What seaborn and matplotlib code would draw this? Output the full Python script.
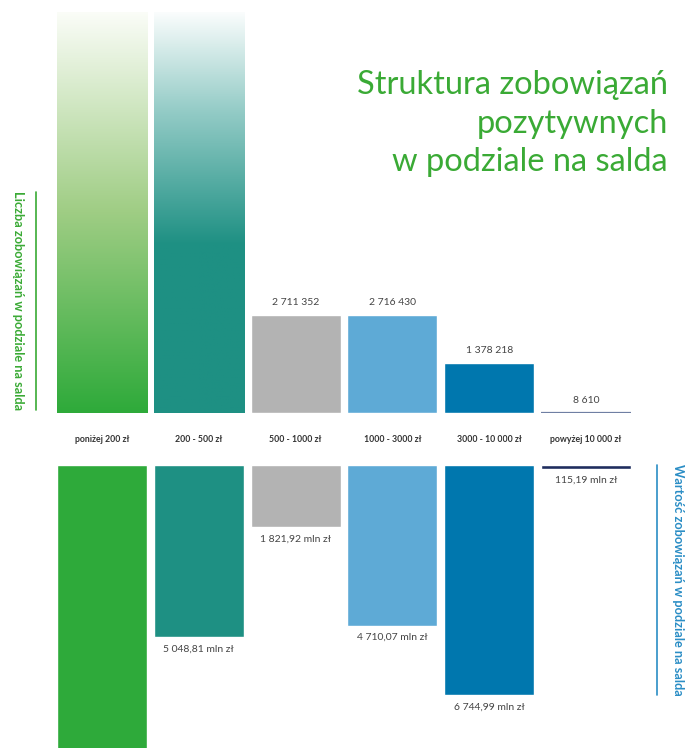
import numpy as np
import pandas as pd
import matplotlib
matplotlib.use("Agg")
import matplotlib.pyplot as plt
import seaborn as sns
from matplotlib.colors import LinearSegmentedColormap
from matplotlib.transforms import blended_transform_factory

# ---- data ----
categories = ["poniżej 200 zł", "200 - 500 zł", "500 - 1000 zł",
              "1000 - 3000 zł", "3000 - 10 000 zł", "powyżej 10 000 zł"]
counts = [11_150_000, 11_150_000, 2_711_352, 2_716_430, 1_378_218, 8_610]
count_labels = ["", "", "2 711 352", "2 716 430", "1 378 218", "8 610"]
values_mln = [8600.0, 5048.81, 1821.92, 4710.07, 6744.99, 115.19]
value_labels = ["", "5 048,81 mln zł", "1 821,92 mln zł", "4 710,07 mln zł",
                "6 744,99 mln zł", "115,19 mln zł"]
colors = ["#2eaa3a", "#1e9083", "#b3b3b3", "#5eaad6", "#0077ae", "#1f2d5e"]
title = "Struktura zobowiązań\npozytywnych\nw podziale na salda"
left_label = "Liczba zobowiązań w podziale na salda"
right_label = "Wartość zobowiązań w podziale na salda"

sns.set_theme(style="white")
plt.rcParams['font.family'] = ['Lato', 'DejaVu Sans']

W, H = 695, 748
fig = plt.figure(figsize=(W / 100, H / 100), dpi=100)

df = pd.DataFrame({"cat": categories, "count": counts, "val": values_mln})
pal = dict(zip(categories, colors))

# x mapping: centre of bar0 at 102px, spacing 96.8 px
sp = 96.8
xl = (-102 / sp, 5 + (W - 586) / sp)

base_top = 413
ax_top = fig.add_axes([0, (H - base_top) / H, 1, base_top / H])
ax_bot = fig.add_axes([0, 0, 1, (H - 465) / H])

px_per_m = 36.0
sns.barplot(data=df, x="cat", y="count", hue="cat", palette=pal, dodge=False,
            legend=False, width=0.93, ax=ax_top, saturation=1)

px_per_k = 34.15
sns.barplot(data=df, x="cat", y="val", hue="cat", palette=pal, dodge=False,
            legend=False, width=0.93, ax=ax_bot, saturation=1)

# gradients on first two top bars
grad_specs = [
    [(0.0, "#2eaa3a"), (0.5, "#9fcd84"), (1.0, "#fbfdf8")],
    [(0.0, "#1e9083"), (0.42, "#1e9083"), (0.75, "#93cbc6"), (1.0, "#fbfdfd")],
]
for i, stops in enumerate(grad_specs):
    p = ax_top.patches[i]
    x0, y0 = p.get_x(), p.get_y()
    w, h = p.get_width(), p.get_height()
    cmap = LinearSegmentedColormap.from_list(f"g{i}", stops)
    grad = np.linspace(0, 1, 256).reshape(-1, 1)
    im = ax_top.imshow(grad, cmap=cmap, origin="lower", aspect="auto",
                       extent=[x0, x0 + w, y0, y0 + h], zorder=p.get_zorder())
    im.set_clip_path(p)
    p.set_facecolor("none")

ax_top.set_ylim(0, base_top / px_per_m * 1e6)
ax_bot.set_ylim((H - 465) / px_per_k * 1000, 0)
for ax in (ax_top, ax_bot):
    ax.set_xlim(*xl)
    ax.axis("off")
    ax.patch.set_alpha(0)

# tiny last top bar drawn as a visible line
p6 = ax_top.patches[5]
p6.set_facecolor("#6f7fa3")
p6.set_edgecolor("#6f7fa3")
p6.set_linewidth(1.6)
p6.set_alpha(1)

# value labels
for i, lab in enumerate(count_labels):
    if lab:
        ax_top.annotate(lab, (i, counts[i]), xytext=(0, 8), textcoords="offset pixels",
                        ha="center", va="bottom", fontsize=7.5, color="#444444")
for i, lab in enumerate(value_labels):
    if lab:
        ax_bot.annotate(lab, (i, values_mln[i]), xytext=(0, -7), textcoords="offset pixels",
                        ha="center", va="top", fontsize=7.5, color="#444444")

# category labels
tr = blended_transform_factory(ax_top.transData, fig.transFigure)
for i, c in enumerate(categories):
    fig.text(i, 1 - 439 / H, c, transform=tr, ha="center", va="center",
             fontsize=6.3, color="#333333", fontweight="bold")

# title
fig.text(668 / W, 1 - 70 / H, title, ha="right", va="top", fontsize=23.5,
         color="#3aaa35", linespacing=1.36)

# side labels and lines
fig.add_artist(plt.Line2D([36 / W, 36 / W], [1 - 192 / H, 1 - 410 / H],
                          color="#3aaa35", lw=1.2))
fig.text(18 / W, 1 - 301 / H, left_label, rotation=270, ha="center", va="center",
         fontsize=9.2, color="#3aaa35", fontweight="bold")
fig.add_artist(plt.Line2D([657 / W, 657 / W], [1 - 465 / H, 1 - 695 / H],
                          color="#2a8dc5", lw=1.2))
fig.text(678 / W, 1 - 580 / H, right_label, rotation=270, ha="center", va="center",
         fontsize=9.2, color="#2a8dc5", fontweight="bold")

fig.savefig("out.png", dpi=100, facecolor="white")
